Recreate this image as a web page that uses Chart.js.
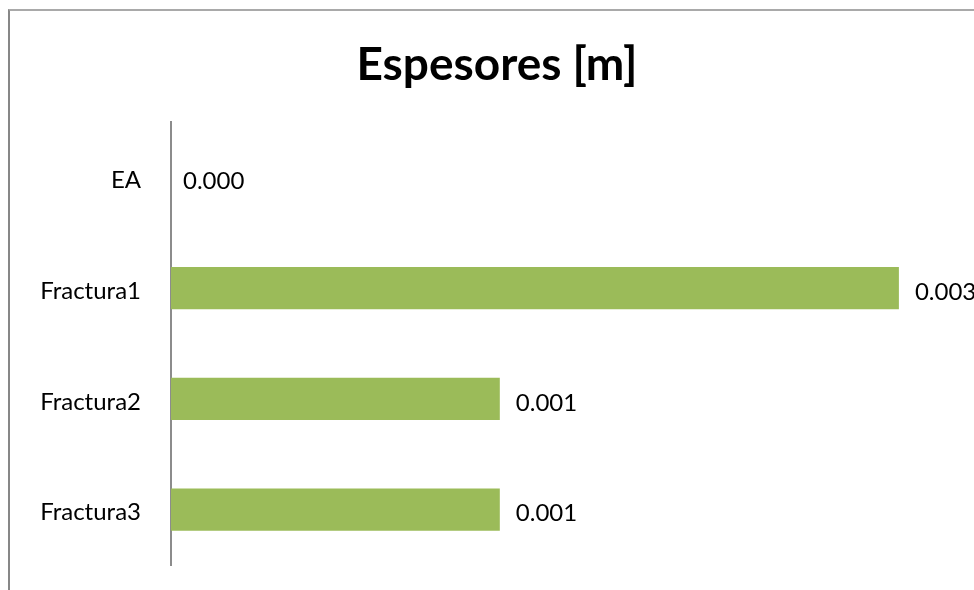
<!DOCTYPE html>
<html lang="es">
<head>
<meta charset="utf-8">
<title>Espesores [m]</title>
<script src="https://cdn.jsdelivr.net/npm/chart.js@4"></script>
<style>
    html, body {
        margin: 0;
        padding: 0;
        background: #ffffff;
        overflow: hidden;
        width: 974px;
        height: 590px;
    }
    .chart-frame {
        position: absolute;
        left: 8px;
        top: 9px;
        width: 1000px;
        height: 700px;
        border-left: 2px solid #878787;
        border-top: 2px solid #a9a9a9;
    }
    #espesoresChart {
        position: absolute;
        left: 0;
        top: 0;
    }
</style>
</head>
<body>
<div class="chart-frame"></div>
<canvas id="espesoresChart" width="974" height="590"></canvas>

<script>
// Thickness per zone
const categories = ['EA', 'Fractura1', 'Fractura2', 'Fractura3'];
const espesores = [0.0, 0.0029, 0.00131, 0.00131];
const axisMax = 0.003;
const chartTitle = 'Espesores [m]';

const barColor = '#9bbb59';
const fontFamily = 'Lato, "Open Sans", "DejaVu Sans", sans-serif';

// Title centred over the whole chart frame (frame runs a bit past the canvas)
const frameTitle = {
    id: 'frameTitle',
    afterDraw(chart) {
        const ctx = chart.ctx;
        ctx.save();
        ctx.font = 'bold 46px ' + fontFamily;
        ctx.fillStyle = '#000000';
        ctx.textAlign = 'center';
        ctx.textBaseline = 'middle';
        ctx.fillText(chartTitle, 497, 65);
        ctx.restore();
    }
};

// Writes the value next to the end of each bar
const valueLabels = {
    id: 'valueLabels',
    afterDatasetsDraw(chart) {
        const ctx = chart.ctx;
        const meta = chart.getDatasetMeta(0);
        ctx.save();
        ctx.font = '24px ' + fontFamily;
        ctx.fillStyle = '#000000';
        ctx.textAlign = 'left';
        ctx.textBaseline = 'middle';
        meta.data.forEach((bar, i) => {
            const value = chart.data.datasets[0].data[i];
            const offset = value === 0 ? 12 : 16;
            ctx.fillText(value.toFixed(3), bar.x + offset, bar.y + 4);
        });
        ctx.restore();
    }
};

document.addEventListener('DOMContentLoaded', function() {
    setupEspesoresChart();
});

function setupEspesoresChart() {
    const ctx = document.getElementById('espesoresChart').getContext('2d');

    new Chart(ctx, {
        type: 'bar',
        data: {
            labels: categories,
            datasets: [{
                data: espesores,
                backgroundColor: barColor,
                borderWidth: 0,
                categoryPercentage: 1.0,
                barPercentage: 0.38
            }]
        },
        plugins: [valueLabels, frameTitle],
        options: {
            indexAxis: 'y',
            responsive: false,
            animation: false,
            layout: {
                padding: { left: 0, right: 50, top: 122, bottom: 25 }
            },
            scales: {
                x: {
                    display: false,
                    min: 0,
                    max: axisMax
                },
                y: {
                    grid: { display: false, drawTicks: false },
                    border: { display: true, color: '#8c8c8c', width: 2 },
                    ticks: {
                        color: '#000000',
                        padding: 30,
                        labelOffset: 3,
                        font: { family: fontFamily, size: 24 }
                    },
                    afterFit: function(scale) {
                        // fixed label gutter, and no extra room above/below the axis
                        scale.width = 171;
                        scale.paddingTop = 0;
                        scale.paddingBottom = 0;
                    }
                }
            },
            plugins: {
                legend: { display: false },
                tooltip: { enabled: false },
                title: { display: false }
            }
        }
    });
}
</script>
</body>
</html>
